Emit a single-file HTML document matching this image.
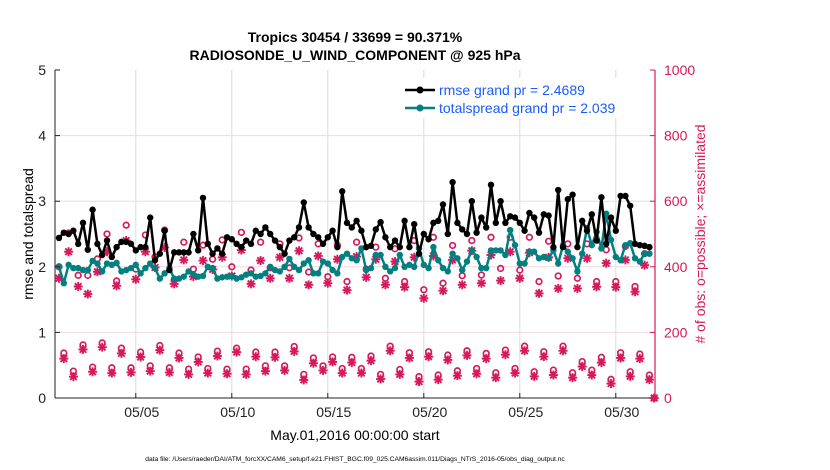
<!DOCTYPE html>
<html><head><meta charset="utf-8"><style>
html,body{margin:0;padding:0;background:#fff;width:830px;height:470px;overflow:hidden}
svg{display:block;font-family:"Liberation Sans",sans-serif}
</style></head><body>
<svg id="chart" width="830" height="470" viewBox="0 0 830 470" xmlns="http://www.w3.org/2000/svg">
<rect width="830" height="470" fill="#fff"/>
<g id="grid"></g>
<g id="marks"></g>
<g id="axes"></g>
<text x="355" y="42" text-anchor="middle" font-size="14" font-weight="bold">Tropics 30454 / 33699 = 90.371%</text>
<text x="355" y="60" text-anchor="middle" font-size="14" font-weight="bold">RADIOSONDE_U_WIND_COMPONENT @ 925 hPa</text>
<text transform="translate(33,234) rotate(-90)" text-anchor="middle" font-size="14">rmse and totalspread</text>
<text transform="translate(705,234) rotate(-90)" text-anchor="middle" font-size="14" fill="#d6195c"># of obs: o=possible; ×=assimilated</text>
<text x="355" y="440" text-anchor="middle" font-size="14">May.01,2016 00:00:00 start</text>
<text x="355" y="461" text-anchor="middle" font-size="6.7">data file: /Users/raeder/DAI/ATM_forcXX/CAM6_setup/f.e21.FHIST_BGC.f09_025.CAM6assim.011/Diags_NTrS_2016-05/obs_diag_output.nc</text>
<g>
<rect x="400" y="78" width="250" height="40" fill="#fff"/>
<g>
<line x1="405" y1="90" x2="435" y2="90" stroke="#000" stroke-width="2.5"/>
<circle cx="420" cy="90" r="3.5" fill="#000"/>
<text x="439" y="95" font-size="14" fill="#1a5cff">rmse grand pr = 2.4689</text></g>
<g>
<line x1="405" y1="108" x2="435" y2="108" stroke="#008080" stroke-width="2.5"/>
<circle cx="420" cy="108" r="3.5" fill="#008080"/>
<text x="439" y="113" font-size="14" fill="#1a5cff">totalspread grand pr = 2.039</text></g>
</g>
</svg>
<script>
const rmse=[2.44,2.52,2.5,2.55,2.35,2.67,2.26,2.87,2.35,2.18,
2.4,2.15,2.3,2.38,2.38,2.35,2.25,2.3,2.3,2.75,
2.1,2.2,2.55,1.95,2.22,2.22,2.22,2.22,2.5,2.25,
3.05,2.35,2.2,2.28,2.2,2.45,2.42,2.35,2.3,2.4,
2.35,2.55,2.5,2.6,2.5,2.4,2.3,2.2,2.4,2.45,
2.6,2.98,2.6,2.5,2.45,2.35,2.45,2.55,2.3,3.15,
2.67,2.6,2.7,2.55,2.3,2.32,2.57,2.68,2.45,2.3,
2.4,2.3,2.7,2.3,2.65,2.2,2.5,2.42,2.67,2.7,
2.95,2.5,3.29,2.67,2.57,2.5,3.0,2.52,2.75,2.6,
3.25,2.67,3.0,2.67,2.77,2.75,2.67,2.55,2.82,2.75,
2.52,2.8,2.78,2.3,3.17,2.3,3.03,3.1,2.3,2.7,
2.55,2.8,2.4,3.06,2.35,2.75,2.55,3.08,3.08,2.93,
2.35,2.33,2.32,2.3];
const spread=[2.0,1.75,2.03,1.98,1.98,1.95,1.95,2.09,2.05,1.93,
2.05,2.03,2.06,1.93,1.95,1.98,2.03,1.9,1.98,2.05,
1.98,1.82,1.9,1.98,1.82,1.82,1.85,1.93,1.88,1.85,
1.86,2.0,1.98,1.82,1.84,1.85,1.86,1.82,1.84,1.88,
1.9,1.85,1.86,1.9,2.0,1.95,1.93,2.0,2.12,2.0,
1.95,2.05,2.1,1.9,1.9,2.08,2.05,1.95,1.9,2.15,
2.2,2.13,2.1,2.28,1.95,1.98,2.18,2.18,2.0,1.93,
1.98,2.18,2.0,2.03,2.0,2.28,2.03,1.98,2.3,2.1,
1.98,1.93,2.2,2.13,1.95,2.08,2.25,2.15,1.98,1.98,
2.25,2.25,2.25,2.18,2.56,2.33,2.05,2.05,2.23,2.23,
2.13,2.15,2.13,2.25,2.05,2.33,2.23,2.13,1.93,2.2,
2.59,2.33,2.53,2.28,2.81,2.41,2.15,2.1,2.33,2.36,
2.13,2.08,2.2,2.2];
const possibleUpper=[400,503,374,374,424,500,357,527,393,497,430,512,360,475,393,466,423,482,400,505,390,475,397,470,397,488,384,470,370,466,355,
475,393,460,365,455,355,480,330,490,350,465,373,480,375,490,395,490,390,490,355,478,372,470,365,470,355,452,355,462,340,440,0];
const assimUpper=[365,446,340,317,385,446,342,480,362,446,398,459,348,421,370,419,392,429,372,451,348,419,365,429,365,449,345,433,350,423,329,
431,368,423,345,416,338,429,304,433,327,421,345,449,350,436,358,446,365,443,319,429,334,426,334,426,339,411,338,421,324,405,0];
const possibleLower=[137,82,162,94,168,92,152,92,140,98,160,92,137,88,125,90,143,88,152,88,140,98,140,98,157,72,122,98,125,90,
124,90,128,72,158,87,138,65,141,70,131,83,144,90,136,77,146,90,158,80,141,85,158,77,111,85,124,57,138,80,134,70];
const assimLower=[120,65,148,80,155,76,136,78,125,82,146,78,122,72,110,76,128,74,140,72,126,82,124,84,142,55,106,84,110,76,
108,76,114,58,144,72,122,50,126,56,116,68,130,74,120,62,132,76,144,66,126,70,144,62,96,70,108,44,122,66,120,56];
const dayTicks=[5,10,15,20,25,30];
const dayLabels=["05/05","05/10","05/15","05/20","05/25","05/30"];
const leftTicks=[0,1,2,3,4,5];
const rightTicks=[0,200,400,600,800,1000];

const NS="http://www.w3.org/2000/svg";
const L=55,R=655,T=70,B=398;
const X0=59,DAY=19.2;
const xIdx=i=>X0+i*DAY/4;
const xDay=d=>X0+(d-1)*DAY;
const yL=v=>B-(v/5)*(B-T);
const yR=c=>B-(c/1000)*(B-T);
const CR="#d6195c";
function mk(tag,attrs,parent){const e=document.createElementNS(NS,tag);for(const k in attrs)e.setAttribute(k,attrs[k]);parent.appendChild(e);return e;}
const grid=document.getElementById('grid'),marks=document.getElementById('marks'),axes=document.getElementById('axes');

leftTicks.forEach(v=>{if(v>0&&v<5){const g=mk('line',{x1:L,x2:R,y1:yL(v),y2:yL(v),stroke:'#f0d8e0','stroke-width':1},grid);

}});
dayTicks.forEach(d=>{const g=mk('line',{x1:xDay(d),x2:xDay(d),y1:T,y2:B,stroke:'#dcdcdc','stroke-width':1},grid);

});

function star(x,y,parent){const g=mk('g',{stroke:CR,'stroke-width':1.9,fill:'none'},parent);
mk('line',{x1:x-4.5,x2:x+4.5,y1:y,y2:y},g);mk('line',{x1:x,x2:x,y1:y-4.5,y2:y+4.5},g);
mk('line',{x1:x-3.3,x2:x+3.3,y1:y-3.3,y2:y+3.3},g);mk('line',{x1:x-3.3,x2:x+3.3,y1:y+3.3,y2:y-3.3},g);return g;}
possibleUpper.forEach((c,k)=>{const i=k*2;const e=mk('circle',{cx:xIdx(i),cy:yR(c),r:2.8,fill:'none',stroke:CR,'stroke-width':1.7},marks);

});
possibleLower.forEach((c,k)=>{const i=k*2+1;const e=mk('circle',{cx:xIdx(i),cy:yR(c),r:2.8,fill:'none',stroke:CR,'stroke-width':1.7},marks);

});
assimUpper.forEach((c,k)=>{const e=star(xIdx(k*2),yR(c),marks);

});
assimLower.forEach((c,k)=>{const e=star(xIdx(k*2+1),yR(c),marks);

});

function series(arr,color,name){
const p=mk('polyline',{points:arr.map((v,i)=>xIdx(i)+','+yL(v)).join(' '),fill:'none',stroke:color,'stroke-width':2.5,'stroke-linejoin':'round'},marks);


arr.forEach((v,i)=>{const c=mk('circle',{cx:xIdx(i),cy:yL(v),r:3.2,fill:color},marks);

});}
series(spread,'#008080','totalspread');
series(rmse,'#000000','rmse');

let a=mk('line',{x1:L,x2:L,y1:T,y2:B,stroke:'#222','stroke-width':1},axes);


a=mk('line',{x1:L,x2:R,y1:B,y2:B,stroke:'#222','stroke-width':1},axes);


a=mk('line',{x1:R,x2:R,y1:T,y2:B,stroke:CR,'stroke-width':1.2},axes);


leftTicks.forEach(v=>{mk('line',{x1:L,x2:L+5,y1:yL(v),y2:yL(v),stroke:'#222'},axes);
const t=mk('text',{x:L-9,y:yL(v)+5,'text-anchor':'end','font-size':14,fill:'#222'},axes);t.textContent=v;

});
rightTicks.forEach(v=>{mk('line',{x1:R-5,x2:R,y1:yR(v),y2:yR(v),stroke:CR},axes);
const t=mk('text',{x:R+9,y:yR(v)+5,'font-size':14,fill:CR},axes);t.textContent=v;

});
dayTicks.forEach((d,k)=>{mk('line',{x1:xDay(d),x2:xDay(d),y1:B,y2:B-5,stroke:'#222'},axes);
const t=mk('text',{x:xDay(d)+6,y:B+19,'text-anchor':'middle','font-size':14,fill:'#222'},axes);t.textContent=dayLabels[k];

});
</script>
</body></html>
